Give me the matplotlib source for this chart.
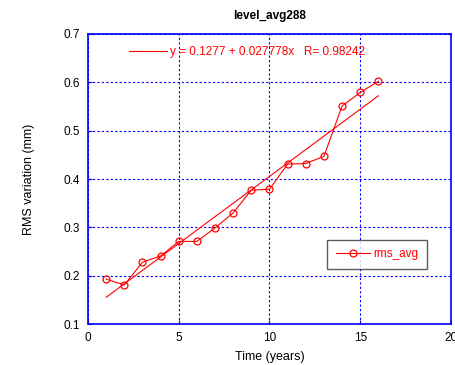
import numpy as np
import matplotlib.pyplot as plt

plt.rcParams['font.family'] = ['Liberation Sans', 'DejaVu Sans']

# data
years = [1, 2, 3, 4, 5, 6, 7, 8, 9, 10, 11, 12, 13, 14, 15, 16]
rms_avg = [0.193, 0.181, 0.228, 0.241, 0.271, 0.271, 0.299, 0.330,
           0.377, 0.379, 0.431, 0.432, 0.447, 0.551, 0.579, 0.602]
fit_a = 0.1277
fit_b = 0.027778
fit_r = 0.98242

fig = plt.figure(figsize=(4.56, 3.65), dpi=100)
ax = fig.add_axes([0.193, 0.112, 0.796, 0.795])

xs = np.array([years[0], years[-1]])
fit_line, = ax.plot(xs, fit_a + fit_b * xs, color='red', lw=0.8)
data_line, = ax.plot(years, rms_avg, color='red', lw=0.8, marker='o',
                     markersize=5, markerfacecolor='none', markeredgewidth=0.9)

ax.set_xlim(0, 20)
ax.set_ylim(0.1, 0.7)
ax.set_xticks([0, 5, 10, 15, 20])
ax.set_yticks([0.1, 0.2, 0.3, 0.4, 0.5, 0.6, 0.7])
ax.set_yticklabels(['0.1', '0.2', '0.3', '0.4', '0.5', '0.6', '0.7'])
ax.grid(True, color='blue', linestyle=(0, (2, 2)), linewidth=0.8)
for s in ax.spines.values():
    s.set_color('blue')
    s.set_linewidth(1.2)
ax.tick_params(direction='in', length=3, color='blue', labelsize=8.5, pad=6)

ax.set_title('level_avg288', fontsize=8.5, fontweight='bold', pad=11)
ax.set_xlabel('Time (years)', fontsize=9, labelpad=5)
ax.set_ylabel('RMS variation (mm)', fontsize=9, labelpad=20)

leg1 = ax.legend([fit_line],
                 ['y = %.4f + %.6fx   R= %.5f' % (fit_a, fit_b, fit_r)],
                 loc='center left', bbox_to_anchor=(0.085, 0.938),
                 frameon=False, fontsize=8.5, handlelength=3.2,
                 handletextpad=0.2, labelcolor='red')
ax.add_artist(leg1)

leg2 = ax.legend([data_line], ['rms_avg'], loc='center left',
                 bbox_to_anchor=(0.643, 0.24), fontsize=8.5,
                 handlelength=2.9, handletextpad=0.3, labelcolor='red',
                 fancybox=False, edgecolor='#333333', borderpad=0.7)
leg2.get_frame().set_linewidth(1.0)

fig.savefig('out.png', dpi=100)
